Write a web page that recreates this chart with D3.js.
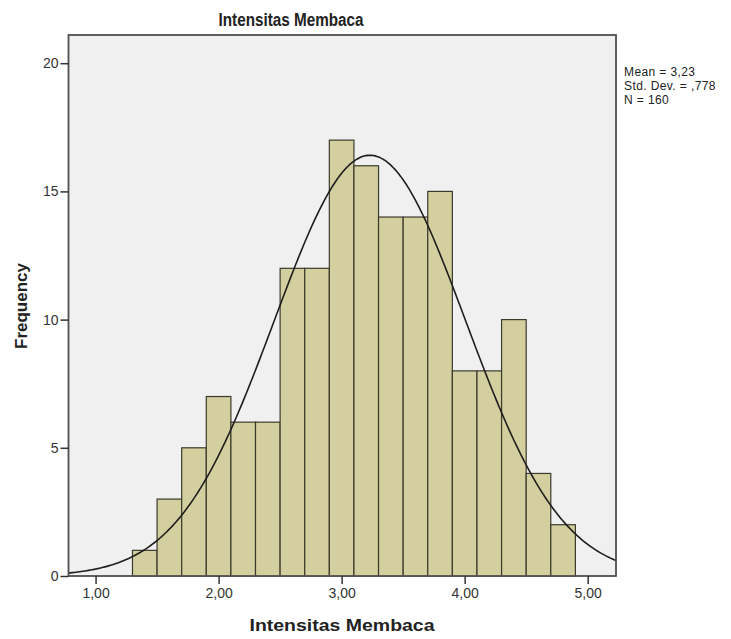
<!DOCTYPE html>
<meta charset="utf-8">
<style>

body {
  margin: 0;
  background: #fff;
}

text {
  font-family: "Liberation Sans", Arial, sans-serif;
  fill: #222;
}

.frame {
  fill: #f0f0f0;
  stroke: #555;
  stroke-width: 1.5px;
}

.bar {
  fill: #d4cf9f;
  stroke: #3b3a2c;
  stroke-width: 1.2px;
}

.curve {
  fill: none;
  stroke: #1e1e1e;
  stroke-width: 1.6px;
}

.axis path {
  display: none;
}

.axis line {
  stroke: #333;
  stroke-width: 1.5px;
}

.axis text {
  font-size: 14px;
  fill: #333;
}

.stats text {
  font-size: 12px;
  letter-spacing: 0.4px;
}

</style>
<body>
<script src="https://d3js.org/d3.v7.min.js"></script>
<script>

// histogram bins (left edge) and counts
var binStart = [1.3, 1.5, 1.7, 1.9, 2.1, 2.3, 2.5, 2.7, 2.9, 3.1, 3.3, 3.5, 3.7, 3.9, 4.1, 4.3, 4.5, 4.7];
var counts   = [1, 3, 5, 7, 6, 6, 12, 12, 17, 16, 14, 14, 15, 8, 8, 10, 4, 2];
var binWidth = 0.2;

// summary stats shown on the right
var statMean = 3.23,
    statSd = 0.778,
    statN = 160;
var statLines = ["Mean = 3,23", "Std. Dev. = ,778", "N = 160"];

var xTicks = [1, 2, 3, 4, 5];
var yTicks = [0, 5, 10, 15, 20];

var width = 731,
    height = 639;

var margin = {top: 35, right: 115, bottom: 63, left: 68.5};
var plotW = width - margin.left - margin.right,
    plotH = height - margin.top - margin.bottom;

var x = d3.scaleLinear()
    .domain([0.78, 5.23])
    .range([0, plotW]);

var y = d3.scaleLinear()
    .domain([0, 21.1])
    .range([plotH, 0]);

var svg = d3.select("body").append("svg")
    .attr("width", width)
    .attr("height", height);

var g = svg.append("g")
    .attr("transform", "translate(" + margin.left + "," + margin.top + ")");

g.append("defs").append("clipPath")
    .attr("id", "clip")
  .append("rect")
    .attr("width", plotW)
    .attr("height", plotH);

g.append("rect")
    .attr("class", "frame")
    .attr("width", plotW)
    .attr("height", plotH);

g.selectAll(".bar")
    .data(counts).enter()
  .append("rect")
    .attr("class", "bar")
    .attr("x", function(d, i) { return x(binStart[i]); })
    .attr("width", function(d, i) { return x(binStart[i] + binWidth) - x(binStart[i]); })
    .attr("y", function(d) { return y(d); })
    .attr("height", function(d) { return y(0) - y(d); });

// fitted normal curve, scaled to counts
var pts = d3.range(0, 301).map(function(k) {
  var v = x.domain()[0] + k * (x.domain()[1] - x.domain()[0]) / 300;
  var z = (v - statMean) / statSd;
  return [v, statN * binWidth * Math.exp(-0.5 * z * z) / (statSd * Math.sqrt(2 * Math.PI))];
});

g.append("path")
    .datum(pts)
    .attr("class", "curve")
    .attr("clip-path", "url(#clip)")
    .attr("d", d3.line()
        .x(function(d) { return x(d[0]); })
        .y(function(d) { return y(d[1]); }));

// redraw frame border on top
g.append("rect")
    .attr("width", plotW)
    .attr("height", plotH)
    .style("fill", "none")
    .style("stroke", "#555")
    .style("stroke-width", "1.5px");

g.append("g")
    .attr("class", "axis")
    .attr("transform", "translate(0," + plotH + ")")
    .call(d3.axisBottom(x)
        .tickValues(xTicks)
        .tickSize(8)
        .tickPadding(4)
        .tickFormat(function(d) { return d3.format(".2f")(d).replace(".", ","); }));

g.append("g")
    .attr("class", "axis")
    .call(d3.axisLeft(y)
        .tickValues(yTicks)
        .tickSize(8)
        .tickPadding(2));

svg.append("text")
    .attr("x", 291)
    .attr("y", 26)
    .attr("text-anchor", "middle")
    .attr("textLength", 145)
    .attr("lengthAdjust", "spacingAndGlyphs")
    .style("font-size", "18px")
    .style("font-weight", "bold")
    .text("Intensitas Membaca");

svg.append("text")
    .attr("x", 342)
    .attr("y", 631)
    .attr("text-anchor", "middle")
    .attr("textLength", 185)
    .attr("lengthAdjust", "spacingAndGlyphs")
    .style("font-size", "17px")
    .style("font-weight", "bold")
    .text("Intensitas Membaca");

svg.append("text")
    .attr("transform", "translate(27,306) rotate(-90)")
    .attr("text-anchor", "middle")
    .style("font-size", "17px")
    .style("font-weight", "bold")
    .text("Frequency");

svg.append("g")
    .attr("class", "stats")
  .selectAll("text")
    .data(statLines).enter()
  .append("text")
    .attr("x", 624)
    .attr("y", function(d, i) { return 76 + i * 13.8; })
    .text(function(d) { return d; });

</script>
